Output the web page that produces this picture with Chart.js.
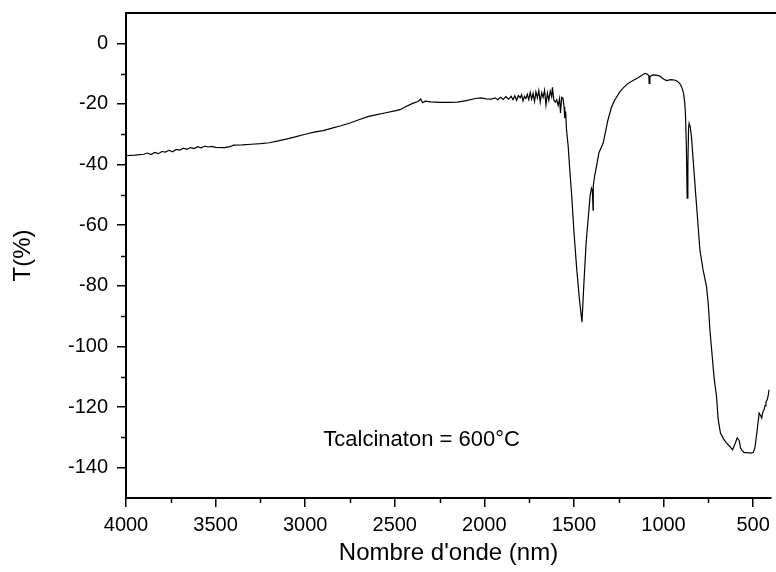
<!DOCTYPE html>
<html>
<head>
<meta charset="utf-8">
<title>FTIR - Tcalcination 600°C</title>
<script src="https://cdn.jsdelivr.net/npm/chart.js@4.4.0/dist/chart.umd.min.js"></script>
<style>
  html, body { margin: 0; padding: 0; background: #ffffff; }
  #wrap { width: 776px; height: 572px; }
</style>
</head>
<body>
<div id="wrap"><canvas id="ftir-chart" width="776" height="572"></canvas></div>
<script>
// FTIR spectrum
const waveNumber = [
    4000, 3950, 3900, 3880, 3860, 3840, 3820, 3800, 3780, 3760,
    3740, 3720, 3700, 3680, 3660, 3640, 3620, 3600, 3580, 3560,
    3540, 3520, 3500, 3450, 3420, 3400, 3350, 3300, 3250, 3200,
    3150, 3100, 3050, 3000, 2950, 2900, 2850, 2800, 2750, 2700,
    2650, 2600, 2550, 2500, 2470, 2440, 2400, 2370, 2355, 2345,
    2330, 2300, 2250, 2200, 2150, 2100, 2050, 2020, 1990, 1960,
    1940, 1925, 1910, 1895, 1880, 1865, 1850, 1840, 1830, 1820,
    1810, 1800, 1792, 1784, 1776, 1768, 1760, 1752, 1744, 1736,
    1728, 1720, 1712, 1704, 1696, 1688, 1680, 1672, 1664, 1656,
    1648, 1640, 1632, 1624, 1620, 1612, 1604, 1596, 1588, 1580,
    1575, 1568, 1561, 1555, 1551, 1546, 1542, 1532, 1523, 1514,
    1500, 1485, 1470, 1455, 1445, 1432, 1421, 1410, 1402, 1397,
    1393, 1392, 1385, 1378, 1360, 1337, 1310, 1290, 1272, 1244,
    1226, 1200, 1170, 1140, 1104, 1090, 1082, 1080, 1076, 1060,
    1040, 1021, 1000, 983, 960, 940, 927, 910, 899, 888,
    881, 877, 872, 868, 864, 860, 857, 851, 844, 830,
    820, 810, 797, 780, 760, 750, 741, 730, 717, 704,
    695, 682, 665, 648, 630, 615, 600, 589, 578, 570,
    564, 550, 536, 515, 499, 490, 484, 475, 466, 458,
    452, 445, 439, 433, 428, 421, 415, 411
];

const transmittance = [
    -37.1, -36.9, -36.6, -36.2, -36.7, -36.0, -36.4, -35.7, -35.9, -35.3,
    -35.8, -35.0, -35.2, -34.6, -35.0, -34.4, -34.7, -34.1, -34.5, -33.9,
    -34.2, -34.0, -34.3, -34.4, -34.1, -33.6, -33.5, -33.3, -33.1, -32.8,
    -32.2, -31.5, -30.8, -30.0, -29.3, -28.8, -28.0, -27.2, -26.3, -25.2,
    -24.2, -23.5, -22.9, -22.3, -21.9, -20.9, -19.8, -19.2, -18.4, -19.6,
    -19.1, -19.3, -19.5, -19.5, -19.4, -18.9, -18.2, -18.0, -18.3, -18.4,
    -18.0, -18.6, -17.8, -18.5, -17.6, -18.4, -17.5, -18.6, -17.3, -18.8,
    -17.2, -18.0, -17.0, -19.0, -17.5, -18.2, -16.8, -18.6, -16.2, -18.4,
    -16.5, -19.2, -16.0, -18.0, -15.6, -19.4, -16.3, -17.8, -15.5, -20.4,
    -16.4, -18.8, -15.8, -17.6, -14.5, -18.7, -19.4, -18.6, -20.5, -18.2,
    -23.0, -17.8, -18.1, -21.0, -24.7, -22.5, -28.0, -34.0, -41.8, -48.9,
    -62.0, -74.0, -84.0, -92.0, -80.0, -66.0, -58.3, -50.5, -47.8, -48.5,
    -55.0, -47.0, -44.0, -41.8, -36.0, -33.0, -25.3, -21.0, -18.7, -16.0,
    -14.8, -13.3, -12.3, -11.3, -9.9, -10.2, -10.6, -13.2, -11.0, -10.4,
    -10.5, -10.8, -11.8, -12.3, -12.0, -12.1, -12.4, -13.2, -14.3, -16.5,
    -19.8, -24.0, -35.0, -51.1, -40.0, -28.0, -26.4, -27.5, -30.8, -42.0,
    -50.0, -57.7, -68.1, -74.5, -80.2, -86.0, -94.5, -102.0, -110.7, -116.5,
    -124.0, -128.6, -130.5, -131.9, -133.0, -134.1, -132.0, -130.2, -131.0, -133.5,
    -134.1, -135.0, -135.0, -135.2, -135.0, -133.5, -130.8, -126.5, -122.0, -122.8,
    -123.6, -121.5, -120.9, -119.5, -118.2, -117.6, -116.0, -114.3
];

// Tick labels
const xTicks = [4000, 3500, 3000, 2500, 2000, 1500, 1000, 500];
const xMinorTicks = [3750, 3250, 2750, 2250, 1750, 1250, 750];
const yTicks = [0, -20, -40, -60, -80, -100, -120, -140];
const yMinorTicks = [-10, -30, -50, -70, -90, -110, -130];

const annotationText = 'Tcalcinaton = 600°C';
const annotationAt = { x: 2350, y: -130.8 };

const FONT = "'Liberation Sans', Arial, sans-serif";

// minor ticks, top frame line and the in-plot label
const frameExtras = {
    id: 'frameExtras',
    afterDraw(chart) {
        const { ctx, chartArea, scales } = chart;
        ctx.save();
        ctx.strokeStyle = '#000';
        ctx.lineWidth = 1.5;
        ctx.beginPath();
        xMinorTicks.forEach(v => {
            const px = Math.round(scales.x.getPixelForValue(v)) + 0.5;
            ctx.moveTo(px, chartArea.bottom);
            ctx.lineTo(px, chartArea.bottom + 5);
        });
        yMinorTicks.forEach(v => {
            const py = Math.round(scales.y.getPixelForValue(v)) + 0.5;
            ctx.moveTo(chartArea.left, py);
            ctx.lineTo(chartArea.left - 5, py);
        });
        ctx.stroke();

        // top frame
        ctx.lineWidth = 2;
        ctx.beginPath();
        ctx.moveTo(chartArea.left - 1, chartArea.top);
        ctx.lineTo(chart.width, chartArea.top);
        ctx.stroke();

        ctx.fillStyle = '#000';
        ctx.font = '22px ' + FONT;
        ctx.textAlign = 'center';
        ctx.textBaseline = 'middle';
        ctx.fillText(annotationText,
            scales.x.getPixelForValue(annotationAt.x),
            scales.y.getPixelForValue(annotationAt.y));
        ctx.restore();
    }
};

function initializeChart() {
    const ctx = document.getElementById('ftir-chart').getContext('2d');

    new Chart(ctx, {
        type: 'scatter',
        data: {
            datasets: [{
                label: 'T(%)',
                data: waveNumber.map((w, i) => ({ x: w, y: transmittance[i] })),
                showLine: true,
                borderColor: '#000000',
                borderWidth: 1.2,
                pointRadius: 0,
                tension: 0,
                fill: false
            }]
        },
        options: {
            responsive: false,
            animation: false,
            devicePixelRatio: 1,
            layout: { padding: { top: 13, right: 5, bottom: 0, left: 0 } },
            plugins: {
                legend: { display: false },
                tooltip: { enabled: false }
            },
            scales: {
                x: {
                    type: 'linear',
                    position: 'bottom',
                    reverse: true,
                    min: 400,
                    max: 4000,
                    afterBuildTicks: s => { s.ticks = xTicks.map(v => ({ value: v })); },
                    afterFit: s => { s.height = 74; s.paddingLeft = 0; s.paddingRight = 0; },
                    grid: {
                        display: true,
                        drawOnChartArea: false,
                        drawTicks: true,
                        tickLength: 9,
                        color: '#000',
                        lineWidth: 1.5
                    },
                    border: { display: true, color: '#000', width: 2 },
                    ticks: {
                        color: '#000',
                        padding: 6,
                        maxRotation: 0,
                        autoSkip: false,
                        font: { family: FONT, size: 20 },
                        callback: v => String(v)
                    },
                    title: {
                        display: true,
                        text: "Nombre d'onde (nm)",
                        color: '#000',
                        font: { family: FONT, size: 24 },
                        padding: { top: 0, bottom: 4 }
                    }
                },
                y: {
                    type: 'linear',
                    min: -150,
                    max: 10,
                    afterBuildTicks: s => { s.ticks = yTicks.map(v => ({ value: v })); },
                    afterFit: s => { s.width = 126; s.paddingTop = 0; s.paddingBottom = 0; },
                    grid: {
                        display: true,
                        drawOnChartArea: false,
                        drawTicks: true,
                        tickLength: 9,
                        color: '#000',
                        lineWidth: 1.5
                    },
                    border: { display: true, color: '#000', width: 2 },
                    ticks: {
                        color: '#000',
                        padding: 9,
                        autoSkip: false,
                        font: { family: FONT, size: 20 },
                        callback: v => String(v)
                    },
                    title: {
                        display: true,
                        text: 'T(%)',
                        color: '#000',
                        font: { family: FONT, size: 24 },
                        padding: { top: 9, bottom: 0 }
                    }
                }
            }
        },
        plugins: [frameExtras]
    });
}

document.addEventListener('DOMContentLoaded', initializeChart);
</script>
</body>
</html>
